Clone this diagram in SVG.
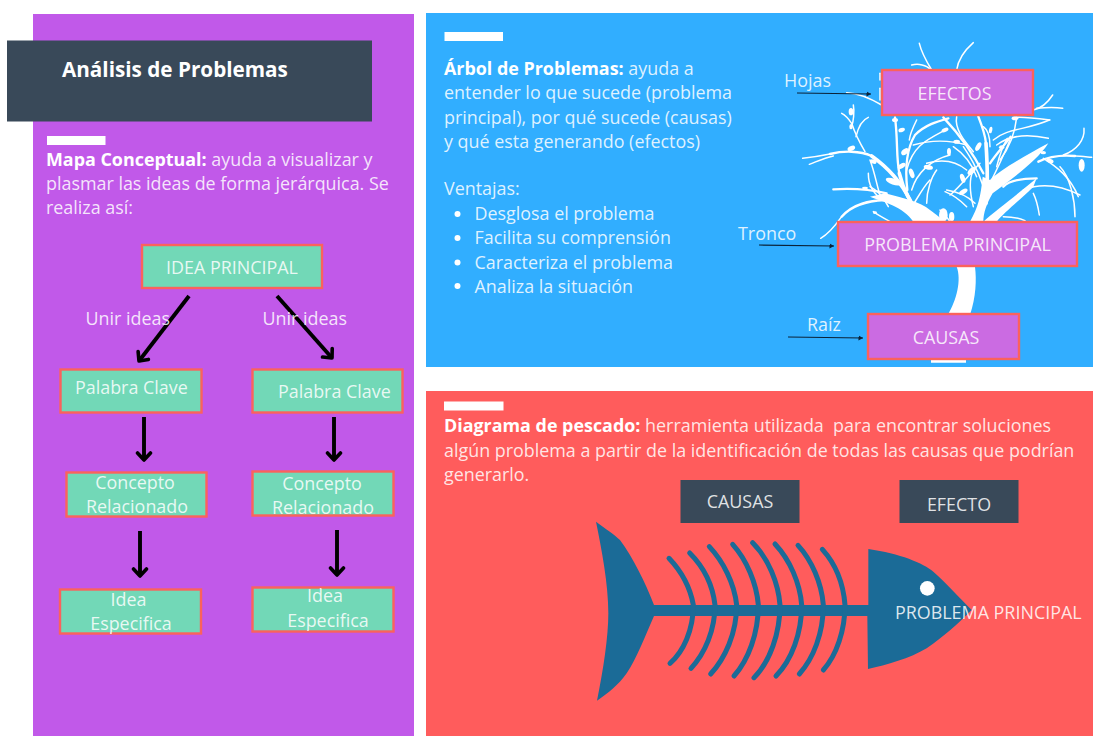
<svg xmlns="http://www.w3.org/2000/svg" width="1093" height="736" viewBox="0 0 1093 736">
<style>
text{font-family:"Open Sans","Noto Sans","DejaVu Sans",sans-serif;fill:#fff;font-size:17.900px}
.b{fill-opacity:.85}
.s{font-weight:700}
.c{text-anchor:middle}
.g{fill:#72d8b7;stroke:#fb625c;stroke-width:2.400}
.p{fill:#cb6be2;stroke:#fb625c;stroke-width:2.400}
.d{fill:#394959}
.bar{fill:#fff}
.thick{fill:none;stroke:#000;stroke-width:3.900;marker-end:url(#open)}
.thin{fill:none;stroke:#0b2238;stroke-width:1.200;marker-end:url(#tri)}
.tr{fill:none;stroke:#fff;stroke-linecap:round;stroke-linejoin:round}
.lf{fill:#fff}
.rib{fill:none;stroke:#1b6b97;stroke-width:15;stroke-linecap:round}
</style>
<defs>
<marker id="open" markerUnits="userSpaceOnUse" markerWidth="18" markerHeight="18" refX="13" refY="9" orient="auto"><path d="M6 2.500L13 9L6 15.500" fill="none" stroke="#000" stroke-width="3.600" stroke-linecap="round" stroke-linejoin="round"/></marker>
<marker id="tri" markerUnits="userSpaceOnUse" markerWidth="6" markerHeight="6" refX="4.500" refY="3" orient="auto"><path d="M0 .5L4.500 3L0 5.500Z" fill="#0b2238"/></marker>
</defs>
<g id="panels">
<rect x="33" y="14" width="381" height="722" fill="#c159e9"/>
<rect x="426" y="13" width="667" height="354" fill="#31aeff"/>
<rect x="426" y="391" width="667" height="345" fill="#ff5c5c"/>
<rect class="bar" x="47" y="136" width="58.500" height="9"/>
<rect class="bar" x="444.500" y="32" width="58.500" height="9"/>
<rect class="bar" x="444" y="401.500" width="59.500" height="9"/>
</g>
<g id="tree" transform="translate(770 30) scale(.33333)">
<path fill="#fff" d="M560 710C575 750 560 810 533 855L600 855C618 800 620 750 615 710Z"/>
<path fill="#fff" d="M483 990H588V998H483Z"/>
<path fill="#fff" d="M600 575C625 530 632 500 638 440L660 450C690 420 760 380 835 340C800 395 720 450 668 490C650 520 640 550 640 575Z"/>
<path fill="#fff" d="M640 575C680 540 740 495 800 445L790 470C750 510 700 550 680 575Z"/>
<path fill="#fff" d="M430 575C400 530 340 515 300 500L345 490C400 505 450 515 480 540C500 555 515 565 520 575Z"/>
<g class="tr" stroke-width="11">
<path d="M455 560C420 520 400 480 388 430"/>
<path d="M420 510C390 450 350 410 305 378"/>
<path d="M648 520C655 460 652 400 648 340"/>
</g>
<g class="tr" stroke-width="7">
<path d="M388 430C378 380 384 330 375 262"/>
<path d="M305 378C270 362 220 362 180 372"/>
<path d="M648 340C645 310 635 285 625 260"/>
<path d="M640 430C610 370 565 310 520 262"/>
<path d="M412 480C405 420 408 360 435 315C465 285 500 275 535 265"/>
<path d="M345 510C300 512 250 520 215 560"/>
<path d="M350 490C300 478 250 474 190 478"/>
<path d="M805 395C840 378 880 375 915 378"/>
<path d="M700 470C715 455 745 445 800 445"/>
<path d="M660 400C680 370 700 350 722 320"/>
</g>
<g class="tr" stroke-width="4.500">
<path d="M180 372C150 378 125 382 98 385"/>
<path d="M190 378C160 385 140 395 118 403"/>
<path d="M285 365C270 340 258 320 245 280C235 265 225 255 215 250"/>
<path d="M258 320C265 290 275 270 295 262"/>
<path d="M250 225C254 245 250 275 245 290"/>
<path d="M215 560C190 595 170 615 152 625"/>
<path d="M300 390C315 430 320 465 330 495"/>
<path d="M410 420C430 345 470 330 530 298"/>
<path d="M430 345C480 330 540 330 590 345"/>
<path d="M425 480C440 430 480 390 540 375"/>
<path d="M470 400C520 385 560 395 590 420"/>
<path d="M580 350C600 380 620 410 640 470"/>
<path d="M550 350C580 370 605 400 620 440"/>
<path d="M530 480C560 485 590 495 615 520"/>
<path d="M610 420C595 450 600 490 610 530"/>
<path d="M630 400C600 430 570 470 540 495"/>
<path d="M640 290C655 300 660 320 660 350"/>
<path d="M690 390C720 350 735 310 740 262C760 260 800 265 840 270"/>
<path d="M670 330C710 295 770 300 838 270"/>
<path d="M680 345C720 315 770 310 835 325"/>
<path d="M660 460C680 420 695 390 720 330"/>
<path d="M915 378C930 378 945 380 965 382"/>
<path d="M880 375C920 360 945 330 942 295"/>
<path d="M820 385C860 410 900 440 925 500"/>
<path d="M760 480C820 455 880 470 930 495"/>
<path d="M790 490C800 510 805 535 808 555"/>
<path d="M870 410C900 440 915 510 915 560"/>
<path d="M790 240C815 235 835 215 848 195"/>
<path d="M800 235C830 232 860 232 878 235"/>
<path d="M330 130V150"/>
<path d="M330 175V210"/>
<path d="M230 188C270 190 310 210 335 225"/>
<path d="M448 40C455 70 470 95 485 120"/>
<path d="M610 38C585 60 565 85 560 120"/>
<path d="M425 105C445 100 470 105 480 118"/>
<path d="M540 575C530 560 520 550 510 540"/>
<path d="M300 470C320 480 340 500 355 530"/>
<path d="M295 430C295 460 305 490 340 510"/>
<path d="M310 545C330 560 345 565 360 575"/>
<path d="M560 260C552 300 590 340 610 365"/>
<path d="M440 270C430 290 420 310 418 330"/>
<path d="M700 560C730 560 750 565 765 572"/>
<path d="M590 530C570 510 550 495 525 485"/>
<path d="M470 520C470 480 485 440 500 420"/>
<path d="M680 410C690 370 700 345 712 325"/>
<path d="M420 540C445 500 460 470 480 450"/>
</g>
<g class="lf">
<ellipse cx="243" cy="245" rx="7" ry="11"/><ellipse cx="244" cy="355" rx="12" ry="7" transform="rotate(-25 244 355)"/>
<ellipse cx="243" cy="290" rx="5" ry="8"/><ellipse cx="370" cy="455" rx="24" ry="9" transform="rotate(20 370 455)"/>
<ellipse cx="395" cy="408" rx="13" ry="7" transform="rotate(-30 395 408)"/><ellipse cx="405" cy="365" rx="13" ry="8" transform="rotate(-40 405 365)"/>
<ellipse cx="395" cy="300" rx="10" ry="6" transform="rotate(-20 395 300)"/><ellipse cx="375" cy="270" rx="9" ry="6"/>
<ellipse cx="425" cy="430" rx="7" ry="15" transform="rotate(-20 425 430)"/><ellipse cx="475" cy="412" rx="14" ry="7" transform="rotate(10 475 412)"/>
<ellipse cx="537" cy="365" rx="6" ry="11"/><ellipse cx="525" cy="300" rx="11" ry="6" transform="rotate(-25 525 300)"/>
<ellipse cx="560" cy="335" rx="10" ry="6"/><ellipse cx="605" cy="423" rx="15" ry="8" transform="rotate(-45 605 423)"/>
<ellipse cx="578" cy="445" rx="7" ry="14" transform="rotate(-20 578 445)"/><ellipse cx="580" cy="485" rx="14" ry="7" transform="rotate(-30 580 485)"/>
<ellipse cx="625" cy="350" rx="7" ry="14" transform="rotate(30 625 350)"/><ellipse cx="695" cy="352" rx="8" ry="6"/>
<ellipse cx="662" cy="300" rx="5" ry="10" transform="rotate(10 662 300)"/><ellipse cx="735" cy="265" rx="10" ry="6"/>
<ellipse cx="820" cy="368" rx="8" ry="5"/><ellipse cx="840" cy="393" rx="11" ry="6" transform="rotate(15 840 393)"/>
<ellipse cx="935" cy="406" rx="9" ry="19"/><ellipse cx="310" cy="395" rx="10" ry="6" transform="rotate(20 310 395)"/>
<ellipse cx="520" cy="555" rx="13" ry="20"/><ellipse cx="545" cy="560" rx="8" ry="14"/>
<ellipse cx="285" cy="474" rx="9" ry="4"/><ellipse cx="315" cy="548" rx="6" ry="4"/>
</g>
</g>
<g id="fish" transform="translate(580 470) scale(.33333)">
<path fill="#1b6b97" d="M48 155C75 175 105 195 120 210C160 265 195 335 222 405H865V237C960 250 1030 280 1060 305C1100 340 1140 385 1175 420C1130 465 1090 500 1040 535C990 565 920 585 864 597L862 438H222C195 500 170 565 140 610C115 645 85 670 51 692C70 600 85 500 85 430C85 340 65 240 48 155Z"/>
<g class="rib">
<path d="M267 265C305 305 330 350 340 405C340 480 310 545 270 580"/>
<path d="M329 249C370 290 398 345 405 405C405 480 375 550 333 595"/>
<path d="M388 230C430 275 463 340 470 405C470 490 435 565 392 612"/>
<path d="M458 223C500 270 530 340 535 405C535 490 505 570 462 618"/>
<path d="M518 218C565 265 595 340 600 405C600 490 570 575 522 623"/>
<path d="M585 222C630 270 660 340 665 405C665 490 635 570 588 618"/>
<path d="M654 226C695 270 725 340 730 405C730 490 700 565 658 612"/>
<path d="M727 238C765 280 790 340 795 405C795 480 770 555 730 600"/>
</g>
<circle cx="1042" cy="355" r="22" fill="#fff"/>
</g>
<g id="connectors">
<path class="thick" d="M189 296L139 361"/>
<path class="thick" d="M277 296L332 358"/>
<path class="thick" d="M144 417V460"/>
<path class="thick" d="M334 417V460"/>
<path class="thick" d="M140 531V576"/>
<path class="thick" d="M337 530V575"/>
<path class="thin" d="M797 93L871 94"/>
<path class="thin" d="M759 245L834 246"/>
<path class="thin" d="M788 337L863 338"/>
</g>
<g id="title"><rect class="d" x="7" y="40.500" width="365" height="81"/><text class="s" x="62" y="77" style="font-size:20.700px">Análisis de Problemas</text></g>
<g id="mapa-texto">
<text class="b" x="46" y="166"><tspan class="s" style="fill-opacity:1">Mapa Conceptual:</tspan> ayuda a visualizar y</text>
<text class="b" x="46" y="190">plasmar las ideas de forma jerárquica. Se</text>
<text class="b" x="46" y="214">realiza así:</text>
</g>
<g id="n-idea-principal"><rect class="g" x="142" y="245" width="180" height="43"/><text class="b c" x="232" y="273.500">IDEA PRINCIPAL</text></g>
<g id="l-unir-1"><text class="b" x="85.500" y="324.500">Unir ideas</text></g>
<g id="l-unir-2"><text class="b" x="262.500" y="324.500">Unir ideas</text></g>
<g id="n-palabra-1"><rect class="g" x="60.500" y="369.500" width="141" height="43"/><text class="b" x="75" y="394">Palabra Clave</text></g>
<g id="n-palabra-2"><rect class="g" x="252.500" y="369.500" width="150" height="43"/><text class="b" x="278" y="398">Palabra Clave</text></g>
<g id="n-concepto-1"><rect class="g" x="66.500" y="472.500" width="140" height="44"/><text class="b c" x="135" y="488.500">Concepto</text><text class="b c" x="137" y="512.500">Relacionado</text></g>
<g id="n-concepto-2"><rect class="g" x="252.500" y="471.500" width="141" height="44"/><text class="b c" x="322" y="489.500">Concepto</text><text class="b c" x="323" y="514">Relacionado</text></g>
<g id="n-idea-1"><rect class="g" x="60" y="589.500" width="141" height="44"/><text class="b c" x="128.500" y="606">Idea</text><text class="b c" x="131" y="630">Especifica</text></g>
<g id="n-idea-2"><rect class="g" x="252.500" y="587.500" width="141" height="44"/><text class="b c" x="325" y="602">Idea</text><text class="b c" x="328" y="627">Especifica</text></g>
<g id="arbol-texto">
<text class="b" x="444" y="75"><tspan class="s" style="fill-opacity:1">Árbol de Problemas:</tspan> ayuda a</text>
<text class="b" x="444" y="99">entender lo que sucede (problema</text>
<text class="b" x="444" y="124">principal), por qué sucede (causas)</text>
<text class="b" x="444" y="148">y qué esta generando (efectos)</text>
<text class="b" x="444" y="195">Ventajas:</text>
<circle cx="457.500" cy="214" r="3" fill="#fff"/><text class="b" x="474.500" y="220">Desglosa el problema</text>
<circle cx="457.500" cy="238" r="3" fill="#fff"/><text class="b" x="474.500" y="244">Facilita su comprensión</text>
<circle cx="457.500" cy="262.500" r="3" fill="#fff"/><text class="b" x="474.500" y="268.500">Caracteriza el problema</text>
<circle cx="457.500" cy="286" r="3" fill="#fff"/><text class="b" x="474.500" y="292.500">Analiza la situación</text>
</g>
<g id="l-hojas"><text class="b" x="784" y="87">Hojas</text></g>
<g id="l-tronco"><text class="b" x="738" y="240">Tronco</text></g>
<g id="l-raiz"><text class="b" x="807" y="330.500">Raíz</text></g>
<g id="n-efectos"><rect class="p" x="882" y="70" width="151" height="45"/><text class="b c" x="954.500" y="99.500">EFECTOS</text></g>
<g id="n-problema"><rect class="p" x="838" y="222" width="239" height="44"/><text class="b c" x="957.500" y="251">PROBLEMA PRINCIPAL</text></g>
<g id="n-causas"><rect class="p" x="868" y="314" width="151" height="45"/><text class="b c" x="946" y="343.500">CAUSAS</text></g>
<g id="pescado-texto">
<text class="b" x="444" y="432" style="white-space:pre"><tspan class="s" style="fill-opacity:1">Diagrama de pescado:</tspan> herramienta utilizada  para encontrar soluciones</text>
<text class="b" x="444" y="456.500">algún problema a partir de la identificación de todas las causas que podrían</text>
<text class="b" x="444" y="481">generarlo.</text>
</g>
<g id="n-causas-pez"><rect class="d" x="680.500" y="480" width="119" height="43"/><text class="b c" x="740" y="508">CAUSAS</text></g>
<g id="n-efecto-pez"><rect class="d" x="899.500" y="480" width="119" height="43"/><text class="b c" x="959" y="511">EFECTO</text></g>
<g id="l-problema-pez"><text class="b" x="895" y="619">PROBLEMA PRINCIPAL</text></g>
</svg>
